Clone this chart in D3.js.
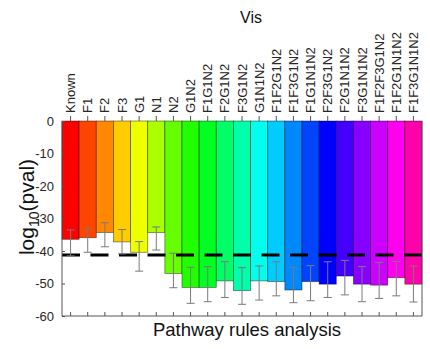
<!DOCTYPE html>
<html><head><meta charset="utf-8">
<script src="https://cdn.jsdelivr.net/npm/d3@7"></script>
<style>body{margin:0;background:#fff}svg{display:block}text{font-family:"Liberation Sans",Arial,sans-serif}</style>
</head><body>
<svg id="c" width="430" height="349"></svg>
<script>
const categories = ["Known","F1","F2","F3","G1","N1","N2","G1N2","F1G1N2","F2G1N2","F3G1N2","G1N1N2","F1F2G1N2","F1F3G1N2","F1G1N1N2","F2F3G1N2","F2G1N1N2","F3G1N1N2","F1F2F3G1N2","F1F2G1N1N2","F1F3G1N1N2"];
const values = [-36.4,-35.9,-34.3,-37.2,-40.4,-34.3,-46.9,-51.2,-51.2,-49.2,-52.2,-49.2,-49.4,-52.0,-49.4,-50.2,-47.7,-50.2,-50.5,-48.2,-50.2];
const errTop = [-33.5,-33.0,-31.3,-33.4,-37.1,-32.6,-40.7,-45.0,-44.8,-43.3,-45.1,-44.6,-43.3,-45.1,-44.5,-43.3,-42.9,-44.8,-43.5,-43.2,-44.6];
const errBottom = [-41.5,-40.4,-38.7,-40.9,-46.2,-39.7,-51.3,-56.1,-55.6,-54.3,-56.4,-55.1,-53.8,-55.9,-55.3,-54.3,-53.5,-55.6,-54.6,-53.8,-55.7];
const threshold = -41.2;
const yTicks = [0,-10,-20,-30,-40,-50,-60];
const title = "Vis";
const xTitle = "Pathway rules analysis";

const svg = d3.select("#c");
const L = 62, R = 422, T = 121, B = 316;
const x = d3.scaleBand().domain(categories).range([L, R]).padding(0);
const y = d3.scaleLinear().domain([-60, 0]).range([B, T]);
const color = (d, i) => d3.hsl(i * 16, 1, 0.5).formatHex();

// bars
svg.append("g").selectAll("rect").data(categories).join("rect")
  .attr("x", d => x(d)).attr("width", x.bandwidth())
  .attr("y", y(0)).attr("height", (d, i) => y(values[i]) - y(0))
  .attr("fill", color).attr("stroke", "#000").attr("stroke-opacity", 0.5).attr("stroke-width", 0.8);

// threshold dashed line
svg.append("line").attr("x1", L).attr("x2", R).attr("y1", y(threshold)).attr("y2", y(threshold))
  .attr("stroke", "#000").attr("stroke-width", 3).attr("stroke-dasharray", "18,10.5");

// error bars
const eg = svg.append("g").attr("stroke", "#7a7a7a").attr("stroke-width", 1);
categories.forEach((c, i) => {
  const cx = x(c) + x.bandwidth() / 2;
  eg.append("line").attr("x1", cx).attr("x2", cx).attr("y1", y(errTop[i])).attr("y2", y(errBottom[i]));
  eg.append("line").attr("x1", cx - 4).attr("x2", cx + 4).attr("y1", y(errTop[i])).attr("y2", y(errTop[i]));
  eg.append("line").attr("x1", cx - 4).attr("x2", cx + 4).attr("y1", y(errBottom[i])).attr("y2", y(errBottom[i]));
});

// axes frame
const ax = svg.append("g").attr("stroke", "#555").attr("stroke-width", 1).attr("fill", "none");
ax.append("line").attr("x1", L).attr("x2", L).attr("y1", T).attr("y2", B);
ax.append("line").attr("x1", R).attr("x2", R).attr("y1", T).attr("y2", B);
ax.append("line").attr("x1", L).attr("x2", R).attr("y1", B).attr("y2", B);

// y ticks
const yAxis = d3.axisLeft(y).tickValues(yTicks).tickSize(-3).tickPadding(8).tickFormat(d => String(d));
const yg = svg.append("g").attr("transform", `translate(${L},0)`).call(yAxis);
yg.select(".domain").remove();
yg.selectAll("line").attr("stroke", "#555");
yg.selectAll("text").attr("font-size", 13).attr("fill", "#262626").attr("font-family", "Liberation Sans, Arial, sans-serif");

// bottom ticks (inward)
const xb = d3.axisBottom(x).tickSize(-4).tickFormat("");
const xbg = svg.append("g").attr("transform", `translate(0,${B})`).call(xb);
xbg.select(".domain").remove();
xbg.selectAll("line").attr("stroke", "#555");

// top ticks and rotated labels
const xt = d3.axisTop(x).tickSize(5).tickPadding(3);
const xtg = svg.append("g").attr("transform", `translate(0,${T})`).call(xt);
xtg.select(".domain").remove();
xtg.selectAll("line").attr("stroke", "#555");
xtg.selectAll("text").attr("font-size", 13).attr("fill", "#262626")
  .attr("font-family", "Liberation Sans, Arial, sans-serif")
  .attr("transform", "rotate(-90)").attr("text-anchor", "start")
  .attr("x", 8).attr("y", 0).attr("dy", "0.35em");

// title
svg.append("text").attr("x", 251).attr("y", 23).attr("text-anchor", "middle")
  .attr("font-size", 16).attr("fill", "#111").text(title);

// x title
svg.append("text").attr("x", 247).attr("y", 336).attr("text-anchor", "middle")
  .attr("font-size", 18.5).attr("fill", "#111").text(xTitle);

// y title
const yt = svg.append("text").attr("transform", "translate(34,207) rotate(-90)")
  .attr("text-anchor", "middle").attr("font-size", 21).attr("fill", "#111");
yt.append("tspan").text("log");
yt.append("tspan").attr("font-size", 14).attr("dy", 5).text("10");
yt.append("tspan").attr("dy", -5).text("(pval)");
</script>
</body></html>
